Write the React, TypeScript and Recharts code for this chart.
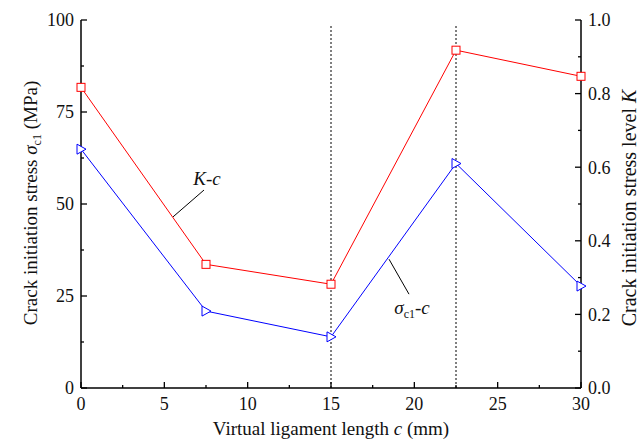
import { LineChart, Line, XAxis, YAxis, ReferenceLine, ReferenceDot } from 'recharts';

const cValues = [0, 7.5, 15, 22.5, 30];
const sigmaC1 = [64.9, 20.9, 13.9, 61.0, 27.7];
const kLevel = [0.817, 0.336, 0.282, 0.918, 0.847];

const xTicks = [0, 2.5, 5, 7.5, 10, 12.5, 15, 17.5, 20, 22.5, 25, 27.5, 30];
const leftTicks = [0, 12.5, 25, 37.5, 50, 62.5, 75, 87.5, 100];
const rightTicks = [0, 0.1, 0.2, 0.3, 0.4, 0.5, 0.6, 0.7, 0.8, 0.9, 1.0];
const rightLabels = ['0.0', '', '0.2', '', '0.4', '', '0.6', '', '0.8', '', '1.0'];
const dividers = [15, 22.5];

const data = cValues.map((c, i) => ({ c, sigma: sigmaC1[i], k: kLevel[i] }));

const FONT = "'Liberation Serif', 'Times New Roman', Times, serif";
const TM = 7; // gap between axis line and tick text
const txt = { fontFamily: FONT };

const LeftTick = (props: any) => {
  const { x, y, payload } = props;
  const major = payload.value % 25 === 0;
  const ax = x + TM;
  return (
    <g>
      <line x1={ax} x2={ax + (major ? 6 : 3)} y1={y} y2={y} stroke="#000" strokeWidth={1.3} />
      {major && (
        <text x={x} y={y} dy="0.35em" textAnchor="end" fontSize={18} style={txt} fill="#111">
          {payload.value}
        </text>
      )}
    </g>
  );
};

const RightTick = (props: any) => {
  const { x, y, index } = props;
  const label = rightLabels[index];
  const ax = x - TM;
  return (
    <g>
      <line x1={ax} x2={ax - (label ? 6 : 3)} y1={y} y2={y} stroke="#000" strokeWidth={1.3} />
      {label && (
        <text x={x} y={y} dy="0.35em" textAnchor="start" fontSize={18} style={txt} fill="#111">
          {label}
        </text>
      )}
    </g>
  );
};

const BottomTick = (props: any) => {
  const { x, y, payload } = props;
  const major = payload.value % 5 === 0;
  const ay = y - 8;
  return (
    <g>
      <line x1={x} x2={x} y1={ay} y2={ay - (major ? 6 : 3)} stroke="#000" strokeWidth={1.3} />
      {major && (
        <text x={x} y={y} dy="0.75em" textAnchor="middle" fontSize={18} style={txt} fill="#111">
          {payload.value}
        </text>
      )}
    </g>
  );
};

const Square = (props: any) => {
  const { cx, cy } = props;
  if (cx == null || cy == null) return null;
  return <rect x={cx - 4} y={cy - 4} width={8} height={8} fill="#fff" stroke="#ff0000" strokeWidth={1} />;
};

const Triangle = (props: any) => {
  const { cx, cy } = props;
  if (cx == null || cy == null) return null;
  return (
    <path
      d={`M${cx - 4},${cy - 5} L${cx + 5},${cy} L${cx - 4},${cy + 5} Z`}
      fill="#fff"
      stroke="#0000ff"
      strokeWidth={1}
    />
  );
};

const KLabel = (props: any) => (
  <text x={props.cx} y={props.cy} dy="0.35em" textAnchor="middle" fontSize={19} style={txt} fontStyle="italic" fill="#111">
    K-c
  </text>
);

const SigmaLabel = (props: any) => (
  <text x={props.cx} y={props.cy} dy="0.35em" textAnchor="middle" fontSize={19} style={txt} fill="#111">
    <tspan fontStyle="italic">σ</tspan>
    <tspan fontSize={12} dy={4}>c1</tspan>
    <tspan dy={-4}>-</tspan>
    <tspan fontStyle="italic">c</tspan>
  </text>
);

const LeftTitle = (props: any) => {
  const cx = 30;
  const cy = 203;
  return (
    <text transform={`translate(${cx},${cy}) rotate(-90)`} textAnchor="middle" dy="0.35em" fontSize={19} style={txt} fill="#111">
      Crack initiation stress <tspan fontStyle="italic">σ</tspan>
      <tspan fontSize={12} dy={4}>c1</tspan>
      <tspan dy={-4}> (MPa)</tspan>
    </text>
  );
};

const RightTitle = (props: any) => {
  const cx = 629;
  const cy = 208;
  return (
    <text transform={`translate(${cx},${cy}) rotate(-90)`} textAnchor="middle" dy="0.35em" fontSize={20} style={txt} fill="#111">
      Crack initiation stress level <tspan fontStyle="italic">K</tspan>
    </text>
  );
};

const BottomTitle = (props: any) => {
  const vb = props.viewBox;
  return (
    <text x={vb.x + vb.width / 2} y={435} textAnchor="middle" fontSize={19} style={txt} fill="#111">
      Virtual ligament length <tspan fontStyle="italic">c</tspan> (mm)
    </text>
  );
};

export default function App() {
  return (
    <div style={{ position: 'absolute', left: 0, top: 0, width: 639, height: 440, background: '#fff', fontFamily: FONT }}>
      <LineChart width={639} height={440} data={data} margin={{ top: 20, right: 0, bottom: 0, left: 0 }}>
        <XAxis
          dataKey="c"
          type="number"
          domain={[0, 30]}
          ticks={xTicks}
          interval={0}
          height={52}
          tickSize={0}
          tickMargin={8}
          tick={<BottomTick />}
          axisLine={{ stroke: '#000', strokeWidth: 1.5 }}
          label={{ content: <BottomTitle /> }}
        />
        <YAxis
          yAxisId="l"
          orientation="left"
          domain={[0, 100]}
          ticks={leftTicks}
          interval={0}
          width={81}
          tickSize={0}
          tickMargin={TM}
          tick={<LeftTick />}
          axisLine={{ stroke: '#000', strokeWidth: 1.5 }}
          label={{ content: <LeftTitle /> }}
        />
        <YAxis
          yAxisId="r"
          orientation="right"
          domain={[0, 1]}
          ticks={rightTicks}
          interval={0}
          width={58}
          tickSize={0}
          tickMargin={TM}
          tick={<RightTick />}
          axisLine={{ stroke: '#000', strokeWidth: 1.5 }}
          label={{ content: <RightTitle /> }}
        />
        {dividers.map((d) => (
          <ReferenceLine
            key={d}
            yAxisId="l"
            segment={[{ x: d, y: 0 }, { x: d, y: 98.5 }]}
            stroke="#000"
            strokeWidth={1}
            strokeDasharray="2 2"
          />
        ))}
        <ReferenceLine yAxisId="l" segment={[{ x: 5.52, y: 46.5 }, { x: 7.38, y: 53.8 }]} stroke="#000" strokeWidth={1} />
        <ReferenceLine yAxisId="l" segment={[{ x: 18.48, y: 35.0 }, { x: 19.68, y: 25.5 }]} stroke="#000" strokeWidth={1} />
        <ReferenceDot yAxisId="l" x={7.56} y={57.1} r={0} shape={<KLabel />} />
        <ReferenceDot yAxisId="l" x={19.86} y={21.8} r={0} shape={<SigmaLabel />} />
        <Line
          yAxisId="r"
          dataKey="k"
          stroke="#ff0000"
          strokeWidth={1}
          dot={<Square />}
          activeDot={false}
          isAnimationActive={false}
        />
        <Line
          yAxisId="l"
          dataKey="sigma"
          stroke="#0000ff"
          strokeWidth={1}
          dot={<Triangle />}
          activeDot={false}
          isAnimationActive={false}
        />
      </LineChart>
    </div>
  );
}
